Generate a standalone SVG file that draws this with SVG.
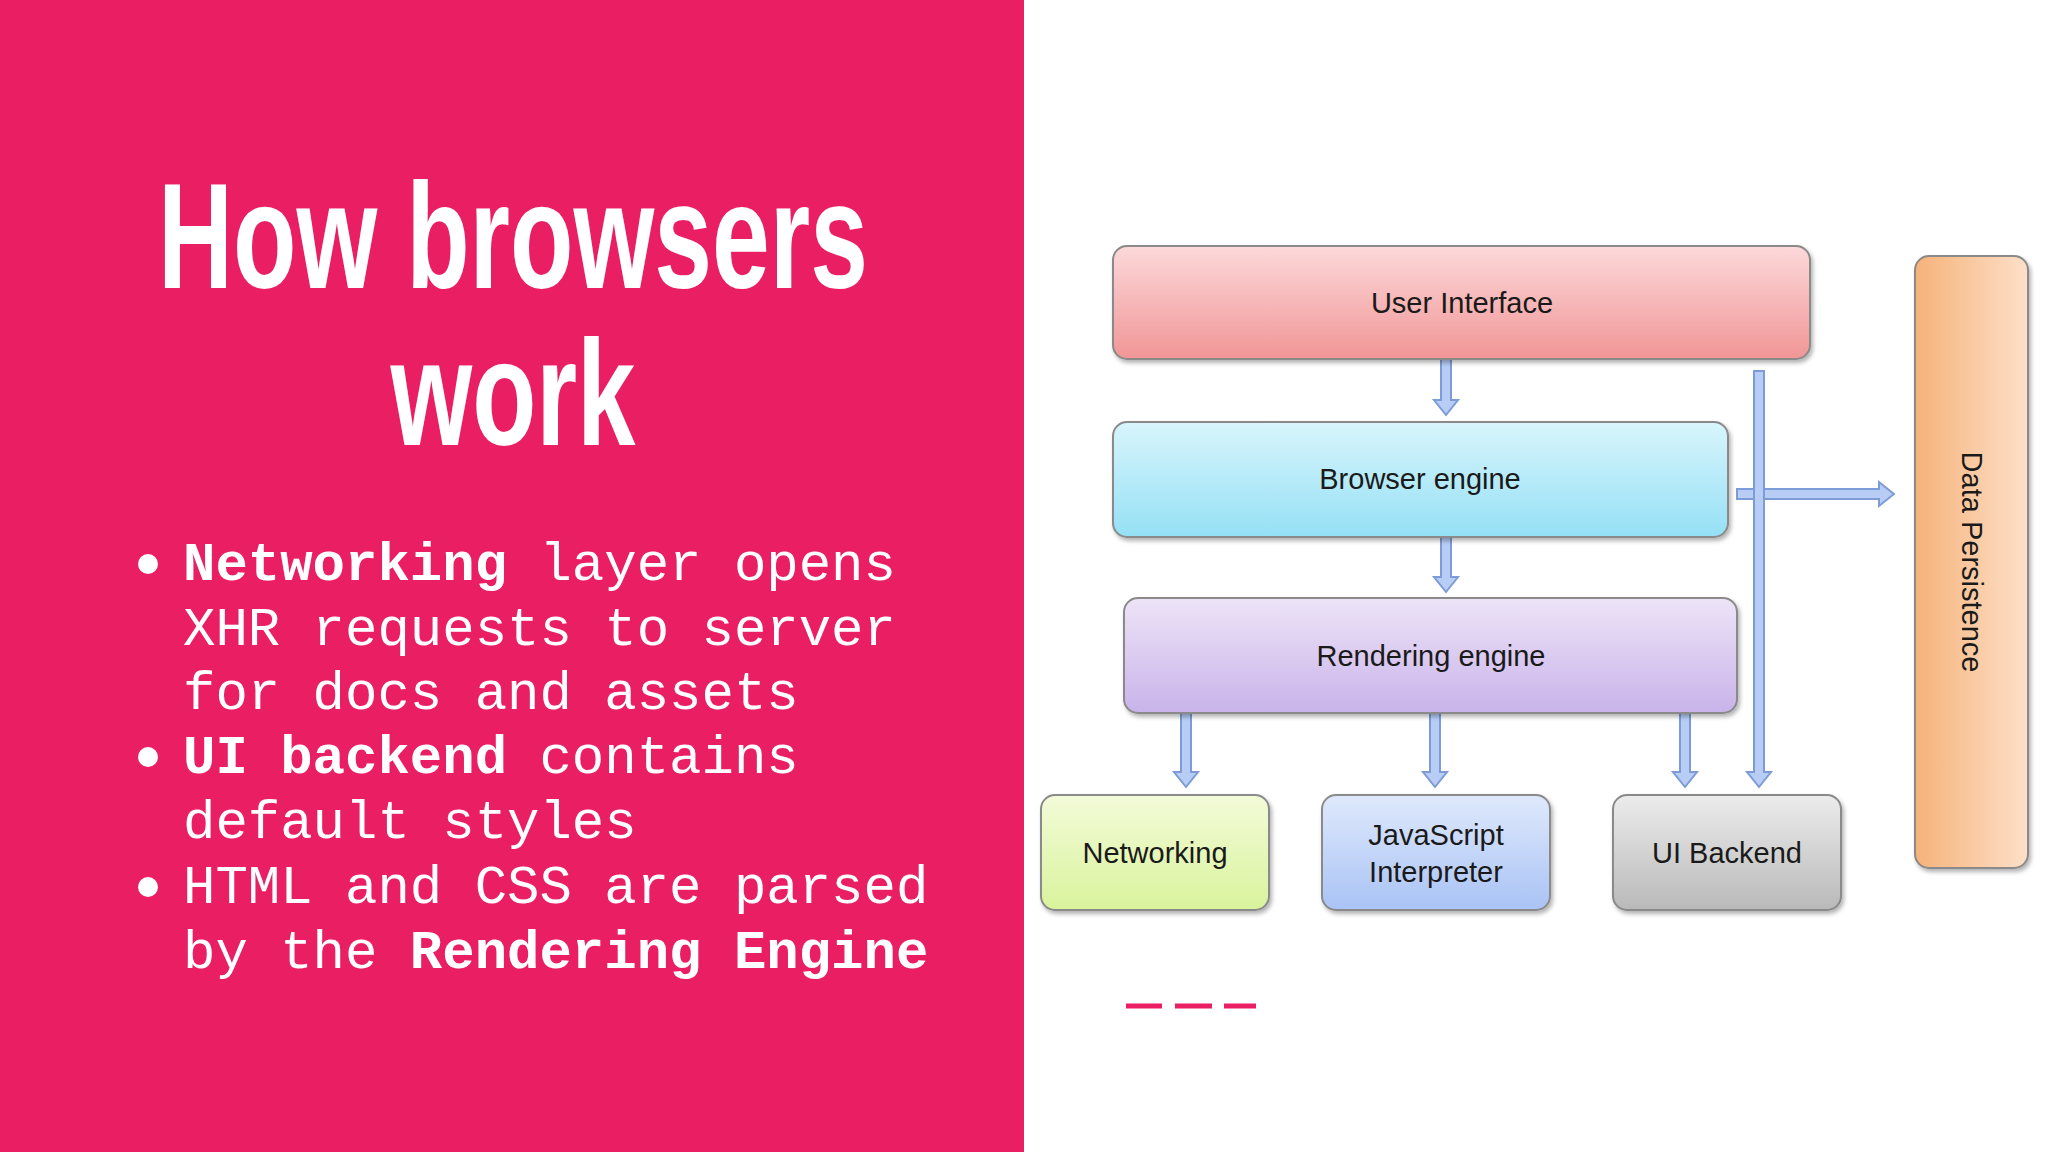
<svg xmlns="http://www.w3.org/2000/svg" width="2048" height="1152" viewBox="0 0 2048 1152">
<style>
.t{font-family:"Liberation Sans",Arial,sans-serif;font-size:29px;fill:#1a1a1a;text-anchor:middle}
.m{font-family:"Liberation Mono","DejaVu Sans Mono",monospace;font-size:54px;fill:#fff}
.b{font-weight:bold}
.box{stroke:#8a8a8a;stroke-width:2;filter:url(#sh)}
.arr{fill:#b7cdf5;stroke:#7d9bd6;stroke-width:2}
</style>
<defs>
<filter id="sh" x="-10%" y="-10%" width="120%" height="130%"><feDropShadow dx="2" dy="3" stdDeviation="2" flood-opacity="0.3"/></filter>
<linearGradient id="g1" x1="0" y1="0" x2="0" y2="1"><stop offset="0" stop-color="#fcd9da"/><stop offset="1" stop-color="#f19596"/></linearGradient>
<linearGradient id="g2" x1="0" y1="0" x2="0" y2="1"><stop offset="0" stop-color="#d8f5fc"/><stop offset="1" stop-color="#95e0f5"/></linearGradient>
<linearGradient id="g3" x1="0" y1="0" x2="0" y2="1"><stop offset="0" stop-color="#ede4f7"/><stop offset="1" stop-color="#c9b3ea"/></linearGradient>
<linearGradient id="g4" x1="0" y1="0" x2="0" y2="1"><stop offset="0" stop-color="#f3fbd8"/><stop offset="1" stop-color="#d9f39c"/></linearGradient>
<linearGradient id="g5" x1="0" y1="0" x2="0" y2="1"><stop offset="0" stop-color="#dfe9fc"/><stop offset="1" stop-color="#a9c3f5"/></linearGradient>
<linearGradient id="g6" x1="0" y1="0" x2="0" y2="1"><stop offset="0" stop-color="#ececec"/><stop offset="1" stop-color="#b9b9b9"/></linearGradient>
<linearGradient id="g7" x1="0" y1="0" x2="1" y2="0"><stop offset="0" stop-color="#f6b27a"/><stop offset="1" stop-color="#fde0c8"/></linearGradient>
</defs>
<rect width="2048" height="1152" fill="#fff"/>
<rect width="1024" height="1152" fill="#e91e63"/>
<g id="title" font-family="'Liberation Sans Narrow','Liberation Sans',sans-serif" font-weight="bold" font-stretch="condensed" fill="#fff" font-size="150" text-anchor="middle">
<text x="513" y="288" textLength="710" lengthAdjust="spacingAndGlyphs">How browsers</text>
<text x="513" y="445" textLength="245" lengthAdjust="spacingAndGlyphs">work</text>
</g>
<g id="bullets">
<circle cx="148" cy="564" r="10" fill="#fff"/><circle cx="148" cy="757" r="10" fill="#fff"/><circle cx="148" cy="887" r="10" fill="#fff"/>
<text class="m" x="183" y="580"><tspan class="b">Networking</tspan> layer opens</text>
<text class="m" x="183" y="645">XHR requests to server</text>
<text class="m" x="183" y="709">for docs and assets</text>
<text class="m" x="183" y="773"><tspan class="b">UI backend</tspan> contains</text>
<text class="m" x="183" y="838">default styles</text>
<text class="m" x="183" y="903">HTML and CSS are parsed</text>
<text class="m" x="183" y="968">by the <tspan class="b">Rendering Engine</tspan></text>
</g>
<g id="connectors">
<polygon class="arr" points="1441,359 1451,359 1451,400 1458,400 1446,415 1434,400 1441,400"/>
<polygon class="arr" points="1441,537 1451,537 1451,577 1458,577 1446,592 1434,577 1441,577"/>
<polygon class="arr" points="1181,713 1191,713 1191,772 1198,772 1186,787 1174,772 1181,772"/>
<polygon class="arr" points="1430,713 1440,713 1440,772 1447,772 1435,787 1423,772 1430,772"/>
<polygon class="arr" points="1680,713 1690,713 1690,772 1697,772 1685,787 1673,772 1680,772"/>
<polygon class="arr" points="1737,489 1879,489 1879,482 1894,494 1879,506 1879,499 1737,499"/>
<polygon class="arr" points="1754,371 1764,371 1764,772 1771,772 1759,787 1747,772 1754,772"/>
</g>
<g id="ui"><rect class="box" x="1113" y="246" width="697" height="113" rx="14" fill="url(#g1)"/><text class="t" x="1462" y="313">User  Interface</text></g>
<g id="be"><rect class="box" x="1113" y="422" width="615" height="115" rx="14" fill="url(#g2)"/><text class="t" x="1420" y="489">Browser engine</text></g>
<g id="re"><rect class="box" x="1124" y="598" width="613" height="115" rx="14" fill="url(#g3)"/><text class="t" x="1431" y="666">Rendering engine</text></g>
<g id="net"><rect class="box" x="1041" y="795" width="228" height="115" rx="14" fill="url(#g4)"/><text class="t" x="1155" y="863">Networking</text></g>
<g id="js"><rect class="box" x="1322" y="795" width="228" height="115" rx="14" fill="url(#g5)"/><text class="t" x="1436" y="845">JavaScript</text><text class="t" x="1436" y="882">Interpreter</text></g>
<g id="uib"><rect class="box" x="1613" y="795" width="228" height="115" rx="14" fill="url(#g6)" stroke="#444"/><text class="t" x="1727" y="863">UI Backend</text></g>
<g id="dp"><rect class="box" x="1915" y="256" width="113" height="612" rx="14" fill="url(#g7)"/><text class="t" transform="translate(1962,562) rotate(90)">Data Persistence</text></g>
<g id="dashes" stroke="#e91e63" stroke-width="5"><line x1="1126" y1="1006" x2="1162" y2="1006"/><line x1="1175" y1="1006" x2="1212" y2="1006"/><line x1="1224" y1="1006" x2="1256" y2="1006"/></g>
</svg>
